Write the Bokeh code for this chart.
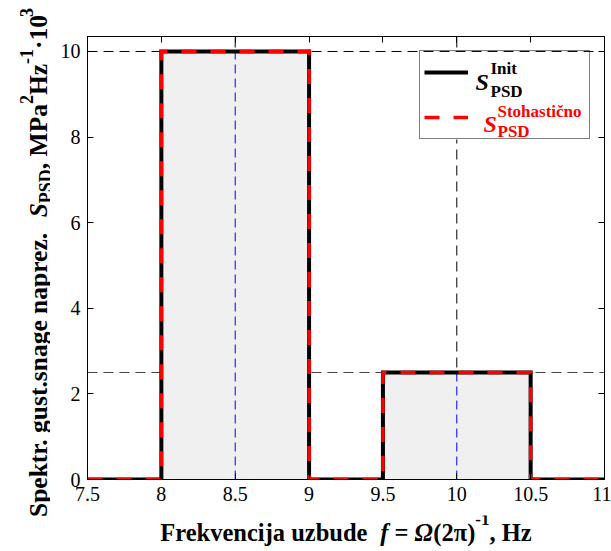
import math
from bokeh.plotting import figure
from bokeh.layouts import row, column
from bokeh.models import Range1d, LinearAxis, FixedTicker, Legend, LegendItem, Label
from bokeh.embed import file_html
from bokeh.resources import INLINE

# ---------------- data ----------------
freq_edges = [7.5, 8.0, 9.0, 9.5, 10.5, 11.0]      # Hz, interval edges
psd_init = [0.0, 10.0, 0.0, 2.5, 0.0]               # S_PSD^Init per interval
psd_stoch = [0.0, 10.0, 0.0, 2.5, 0.0]              # S_PSD^Stohasticno per interval
x_ticks = [7.5, 8.0, 8.5, 9.0, 9.5, 10.0, 10.5, 11.0]
x_tick_labels = ["7.5", "8", "8.5", "9", "9.5", "10", "10.5", "11"]
y_ticks = [0.0, 2.0, 4.0, 6.0, 8.0, 10.0]
y_tick_labels = ["0", "2", "4", "6", "8", "10"]

X0, X1 = 7.5, 11.0
Y0, Y1 = 0.0, 10.35

# ---------------- layout constants (window px) ----------------
W, H = 611, 551
YLAB_W = 50            # strip for the y-axis title
XLAB_H = 36            # strip for the x-axis title
FL, FR, FT, FB = 87, 604, 36, 479   # frame edges in window px
FONT = "Liberation Serif"

MAIN_W, MAIN_H = W - YLAB_W, H - XLAB_H

def px2x(px):
    return X0 + (px - FL) * (X1 - X0) / (FR - FL)

def py2y(py):
    return Y0 + (FB - py) * (Y1 - Y0) / (FB - FT)

p = figure(width=MAIN_W, height=MAIN_H, x_range=Range1d(X0, X1), y_range=Range1d(Y0, Y1),
           output_backend="svg", toolbar_location=None, frame_align=False,
           min_border_left=FL - YLAB_W, min_border_right=W - FR, min_border_top=FT,
           min_border_bottom=MAIN_H - FB, outline_line_color="black", outline_line_width=1,
           background_fill_color="white", border_fill_color="white")
p.grid.visible = False

def style_axis(ax):
    ax.major_tick_in = 6
    ax.major_tick_out = 0
    ax.minor_tick_line_color = None
    ax.axis_line_color = "black"
    ax.major_tick_line_color = "black"
    ax.major_label_text_font = FONT
    ax.major_label_text_font_size = "20px"
    ax.major_label_text_color = "black"

p.xaxis[0].ticker = FixedTicker(ticks=x_ticks)
p.xaxis[0].major_label_overrides = dict(zip(x_ticks, x_tick_labels))
p.xaxis[0].major_label_standoff = 7
p.yaxis[0].ticker = FixedTicker(ticks=y_ticks)
p.yaxis[0].major_label_overrides = dict(zip(y_ticks, y_tick_labels))
p.yaxis[0].major_label_standoff = 7
style_axis(p.xaxis[0])
style_axis(p.yaxis[0])

top_ax = LinearAxis(ticker=FixedTicker(ticks=x_ticks),
                    major_label_overrides={t: "" for t in x_ticks}, major_label_standoff=0)
style_axis(top_ax)
p.add_layout(top_ax, "above")
right_ax = LinearAxis(ticker=FixedTicker(ticks=y_ticks),
                      major_label_overrides={t: "" for t in y_ticks}, major_label_standoff=0)
style_axis(right_ax)
p.add_layout(right_ax, "right")

# ---------------- glyphs ----------------
nz = [i for i, v in enumerate(psd_init) if v > 0]
centers = [(freq_edges[i] + freq_edges[i + 1]) / 2 for i in nz]
peaks = [psd_init[i] for i in nz]
n = len(nz)

# dashed reference lines (under the fill)
p.segment(x0=[X0] * n, x1=[X1] * n, y0=peaks, y1=peaks,
          line_color=["black", "#444444"], line_width=1, line_dash="10 6")
p.segment(x0=centers, x1=centers, y0=[Y0] * n, y1=[Y1] * n,
          line_color="black", line_width=1, line_dash="10 6")

step_y_init = psd_init + [psd_init[-1]]
step_y_stoch = psd_stoch + [psd_stoch[-1]]

p.varea_step(x=freq_edges, y1=[0.0] * len(freq_edges), y2=step_y_init,
             step_mode="after", fill_color="#f0f0f0")

p.segment(x0=centers, x1=centers, y0=[0.0] * n, y1=peaks,
          line_color="blue", line_width=1, line_dash="9 5")

# legend box geometry (window px)
LG_L, LG_T, LG_W, LG_H = 419, 52, 169, 87
# opaque white backing for the legend so reference lines do not show through
p.quad(left=[px2x(LG_L)], right=[px2x(LG_L + LG_W)], top=[py2y(LG_T)],
       bottom=[py2y(LG_T + LG_H)], fill_color="white", line_color=None)

r_init = p.step(x=freq_edges, y=step_y_init, mode="after",
                line_color="black", line_width=4, line_join="miter")
r_stoch = p.step(x=freq_edges, y=step_y_stoch, mode="after",
                 line_color="red", line_width=3.5, line_dash="15 14", line_join="miter")

legend = Legend(items=[LegendItem(label=" ", renderers=[r_init]),
                       LegendItem(label=" ", renderers=[r_stoch])],
                location=(LG_L - FL, FB - (LG_T + LG_H)),
                padding=4, spacing=11, glyph_width=44, glyph_height=34,
                label_standoff=5, label_width=112, label_height=34,
                label_text_font_size="10px", border_line_color="black",
                border_line_width=1, background_fill_alpha=0.0, margin=0)
p.add_layout(legend)

# ---------------- rich text helpers ----------------
BOLD = {' ': 250, '.': 250, ',': 250, '-': 333, '=': 570, '(': 333, ')': 333, '·': 250,
        'F': 611, 'H': 778, 'I': 389, 'M': 944, 'P': 611, 'S': 556, 'D': 722,
        'a': 500, 'b': 556, 'c': 444, 'č': 444, 'd': 556, 'e': 444, 'g': 500, 'h': 556,
        'i': 278, 'j': 333, 'k': 556, 'n': 556, 'o': 500, 'p': 556, 'r': 444, 's': 389,
        't': 333, 'u': 556, 'v': 500, 'z': 444, 'π': 549}
for d in "0123456789":
    BOLD[d] = 500
BOLDIT = {'S': 556, 'f': 333, 'Ω': 768}

def tw(text, size, style):
    tab = BOLDIT if "italic" in style else BOLD
    return sum(tab.get(ch, BOLD.get(ch, 500)) for ch in text) * size / 1000.0

def mk(x, y, text, size, style, color="black", angle=0.0):
    return Label(x=x, y=y, text=text, text_font=FONT, text_font_size=f"{size}px",
                 text_font_style=style, text_color=color, angle=angle,
                 text_align="left", text_baseline="alphabetic", level="overlay")

def seg_draw(t, s, st):
    """Return (shift of the drawn text, drawn text) with outer spaces removed."""
    lead = len(t) - len(t.lstrip(" "))
    return tw(" " * lead, s, st), t.strip(" ")

# legend texts (window px -> data)
def lab(px, py, text, size, style, color="black"):
    return mk(px2x(px), py2y(py), text, size, style, color)

p.add_layout(lab(475, 81, "S", 24, "bold italic"))
p.add_layout(lab(490, 68, "Init", 17, "bold"))
p.add_layout(lab(490, 91, "PSD", 17, "bold"))
p.add_layout(lab(483, 123, "S", 24, "bold italic", "red"))
p.add_layout(lab(497, 111, "Stohastično", 17, "bold", "red"))
p.add_layout(lab(497, 131, "PSD", 17, "bold", "red"))

# ---------------- y-axis title strip (pixel coordinates) ----------------
fy = figure(width=YLAB_W, height=H, x_range=Range1d(0, YLAB_W), y_range=Range1d(H, 0),
            x_axis_type=None, y_axis_type=None, frame_align=False,
            output_backend="svg", toolbar_location=None, min_border=0,
            outline_line_color=None, background_fill_color="white",
            border_fill_color="white")
fy.grid.visible = False

YS, YSUB = 25.5, 18
y_segs = [("Spektr. gust.snage naprez.  ", YS, "bold", 0), ("S", YS, "bold italic", 0),
          ("PSD", YSUB, "bold", -7), (", MPa", YS, "bold", 0), ("2", YSUB, "bold", 12),
          ("Hz", YS, "bold", 0), ("-1", YSUB, "bold", 12), ("·10", YS, "bold", 0),
          ("3", YSUB, "bold", 12)]
tot = sum(tw(t, s, st) for t, s, st, _ in y_segs)
cy = 262 + tot / 2
for t, s, st, sh in y_segs:
    d, txt = seg_draw(t, s, st)
    fy.add_layout(mk(38 - sh, cy - d, txt, s, st, angle=math.pi / 2))
    cy -= tw(t, s, st)

# ---------------- x-axis title strip (pixel coordinates) ----------------
fx = figure(width=MAIN_W, height=XLAB_H, x_range=Range1d(YLAB_W, W), y_range=Range1d(H, MAIN_H),
            x_axis_type=None, y_axis_type=None, frame_align=False,
            output_backend="svg", toolbar_location=None, min_border=0,
            outline_line_color=None, background_fill_color="white",
            border_fill_color="white")
fx.grid.visible = False

XS, XSUP = 24.5, 17
XBASE = 532
x_segs = [("Frekvencija uzbude  ", XS, "bold", 0), ("f", XS, "bold italic", 0),
          (" = ", XS, "bold", 0), ("Ω", XS, "bold italic", 0), ("(2π)", XS, "bold", 0),
          ("-1", XSUP, "bold", 13), (", Hz", XS, "bold", 0)]
tot = sum(tw(t, s, st) for t, s, st, _ in x_segs)
cx = (FL + FR) / 2 - tot / 2
for t, s, st, sh in x_segs:
    d, txt = seg_draw(t, s, st)
    fx.add_layout(mk(cx + d, XBASE - sh, txt, s, st))
    cx += tw(t, s, st)

layout = row(fy, column(p, fx, spacing=0), spacing=0)
open("out.html", "w").write(file_html(layout, INLINE))
